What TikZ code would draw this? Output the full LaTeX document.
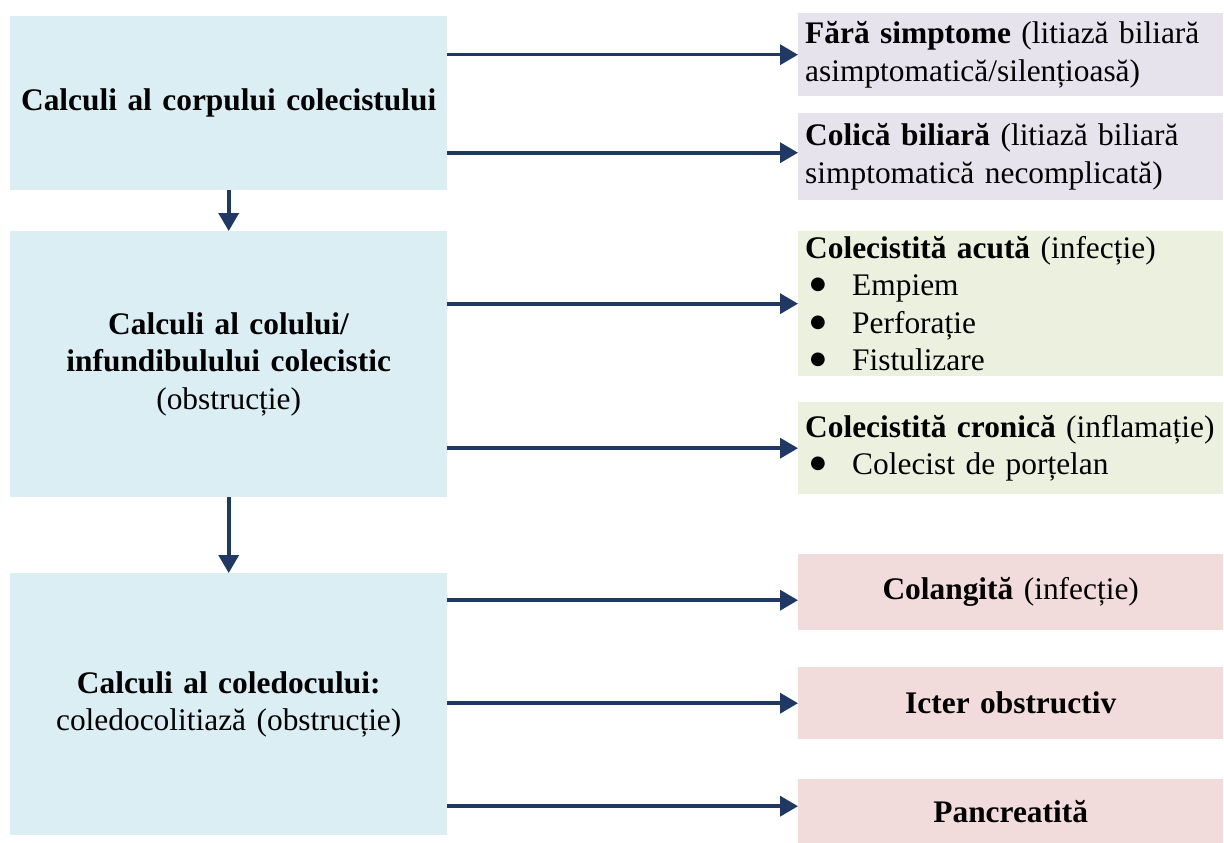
\documentclass[tikz,border=0pt]{standalone}
\usepackage{fontspec}
\setmainfont{Liberation Serif}
\newfontfamily\dejavu{DejaVu Sans}
\usetikzlibrary{arrows.meta,calc}
\definecolor{lblue}{HTML}{DAEEF3}
\definecolor{lpurp}{HTML}{E6E3EC}
\definecolor{lgreen}{HTML}{EBF1DE}
\definecolor{lpink}{HTML}{F2DCDB}
\definecolor{navy}{HTML}{1F3864}
\newcommand{\itm}[1]{\makebox[47pt][l]{\hspace{5pt}\raisebox{6pt}{\dejavu\fontsize{18}{18}\selectfont ●}}#1}
\begin{document}
\begin{tikzpicture}[x=1pt,y=-1pt,
  every node/.style={font=\fontsize{31.4}{37.5}\selectfont, inner sep=0pt, anchor=north west},
  lbox/.style={fill=lblue, minimum width=437pt, minimum height=#1, align=center, text width=437pt},
  rbox/.style 2 args={fill=#1, minimum width=425pt, minimum height=#2, text width=411pt, inner xsep=7pt, align=left},
  cbox/.style 2 args={fill=#1, minimum width=425pt, minimum height=#2, text width=425pt, align=center},
  arr/.style={draw=navy, line width=3.6pt, -{Triangle[length=18pt,width=20pt]}}]
\useasboundingbox (0,0) rectangle (1224,843);
% left column
\node[lbox=174pt] (L1) at (10,16) {\textbf{Calculi al corpului colecistului}};
\node[lbox=266pt] (L2) at (10,231) {\textbf{Calculi al colului/}\\\textbf{infundibulului colecistic}\\(obstrucție)};
\node[lbox=262pt] (L3) at (10,573) {\textbf{Calculi al coledocului:}\\coledocolitiază (obstrucție)};
% right column
\node[rbox={lpurp}{83pt}] (A) at (798,13) {\textbf{Fără simptome} (litiază biliară\\asimptomatică/silențioasă)};
\node[rbox={lpurp}{87pt}] (B) at (798,113) {\textbf{Colică biliară} (litiază biliară\\simptomatică necomplicată)};
\node[rbox={lgreen}{145pt}] (C) at (798,231) {\textbf{Colecistită acută} (infecție)\\\itm{Empiem}\\\itm{Perforație}\\\itm{Fistulizare}};
\node[rbox={lgreen}{92pt}] (D) at (798,402) {\mbox{\textbf{Colecistită cronică} (inflamație)}\\\itm{Colecist de porțelan}};
\node[cbox={lpink}{76pt}] (E) at (798,554) {\textbf{Colangită} (infecție)};
\node[cbox={lpink}{72pt}] (F) at (798,667) {\textbf{Icter obstructiv}};
\node[cbox={lpink}{64pt}] (G) at (798,779) {\textbf{Pancreatită}};
% connectors
\draw[arr] (L1.south) -- (L2.north);
\draw[arr] (L2.south) -- (L3.north);
\draw[arr] (L1.east |- A.west) -- (A.west);
\draw[arr] (L1.east |- {$(B.west)+(0,-4)$}) -- ($(B.west)+(0,-4)$);
\draw[arr] (L2.east |- C.west) -- (C.west);
\draw[arr] (L2.east |- D.west) -- (D.west);
\draw[arr] (L3.east |- {$(E.west)+(0,8)$}) -- ($(E.west)+(0,8)$);
\draw[arr] (L3.east |- F.west) -- (F.west);
\draw[arr] (L3.east |- {$(G.west)+(0,-5)$}) -- ($(G.west)+(0,-5)$);
\end{tikzpicture}
\end{document}
